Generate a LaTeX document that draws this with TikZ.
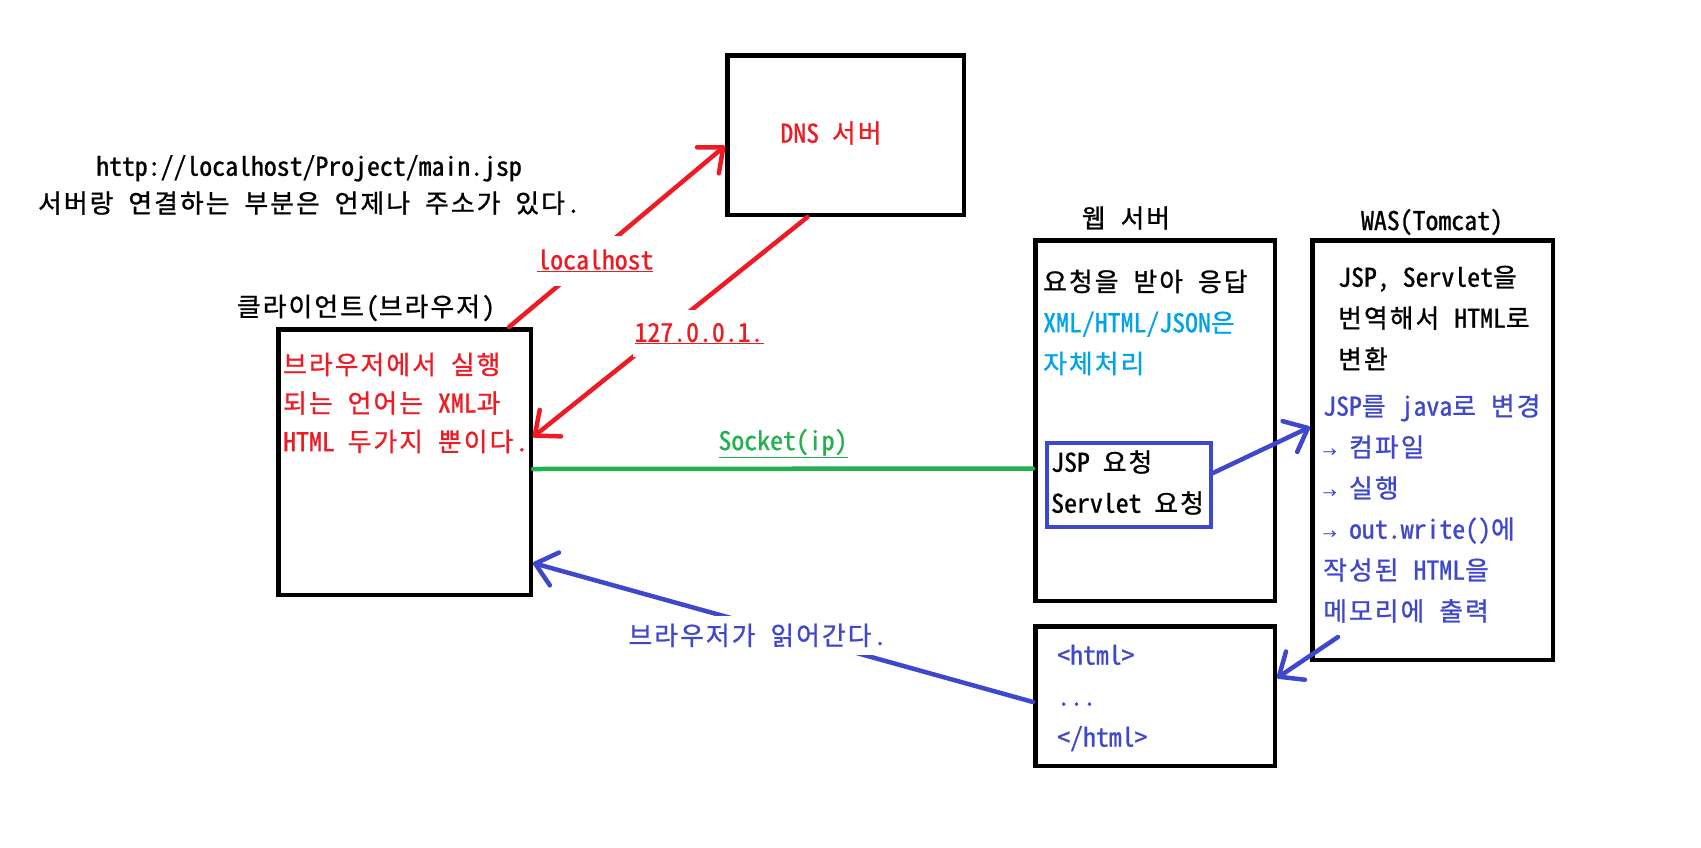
\documentclass[tikz,border=0pt]{standalone}
\usepackage{fontspec}
\setmainfont{Noto Sans Mono CJK KR}[FakeBold=1]
\usepackage{xcolor}
\usetikzlibrary{arrows.meta}
\definecolor{pred}{HTML}{ED1C24}
\definecolor{pblue}{HTML}{3F48CC}
\definecolor{pgreen}{HTML}{22B14C}
\definecolor{pcyan}{HTML}{00A2E8}
\newcommand\smallarrow{{\fontsize{13}{13}\selectfont →}}
% full-width pitch for hangul
\XeTeXinterchartokenstate=1
\newXeTeXintercharclass\hangulclass
\count255="AC00
\loop\XeTeXcharclass\count255=\hangulclass \ifnum\count255<"D7A3 \advance\count255 by 1 \repeat
\XeTeXinterchartoks\hangulclass 0={\kern0.08em\relax}
\XeTeXinterchartoks\hangulclass\hangulclass={\kern0.08em\relax}
\XeTeXinterchartoks\hangulclass 4095={\kern0.08em\relax}

\begin{document}
\begin{tikzpicture}[x=1pt,y=-1pt,
  box/.style={draw,line width=4.5pt,inner sep=0pt},
  txt/.style={inner sep=0pt,font=\fontsize{25.8}{41}\selectfont},
  blk/.style={txt,align=left,anchor=west},
  wire/.style={line width=4.5pt,line cap=round},
  tip/.style={-{Straight Barb[length=20pt,width=34pt,round]}},
  cut/.style={txt,fill=white,inner xsep=2pt}]
\useasboundingbox (0,0) rectangle (1701,847);

\node[txt,align=center,font=\fontsize{25.8}{37}\selectfont] (url) at (309,185)
  {http://localhost/Project/main.jsp\\서버랑 연결하는 부분은 언제나 주소가 있다.};

\node[box,minimum width=236.5pt,minimum height=159.5pt] (dns) at (845.5,135) {};
\node[txt,text=pred] (dnstxt) at (832,133) {DNS 서버};

\node[box,minimum width=252.5pt,minimum height=265.5pt] (client) at (404.5,462) {};
\node[txt] (clientlbl) at (366,308) {클라이언트(브라우저)};
\node[blk,text=pred,font=\fontsize{25.8}{38.5}\selectfont] (clienttxt) at (283,403)
  {브라우저에서 실행\\되는 언어는 XML과\\HTML 두가지 뿐이다.};

\node[box,minimum width=239.5pt,minimum height=360.5pt] (web) at (1155,420.5) {};
\node[txt] (weblbl) at (1127,218) {웹 서버};
\node[blk] (webtxt) at (1043,322.5)
  {요청을 받아 응답\\\textcolor{pcyan}{XML/HTML/JSON은}\\\textcolor{pcyan}{자체처리}};
\node[box,draw=pblue,line width=4pt,minimum width=164pt,minimum height=84pt] (jsp) at (1129,485) {};
\node[blk] (jsptxt) at (1051,482.5) {JSP 요청\\Servlet 요청};

\node[box,minimum width=240.5pt,minimum height=419.5pt] (was) at (1432.5,450) {};
\node[txt] (waslbl) at (1432,222) {WAS(Tomcat)};
\node[blk] (wastxt) at (1338,318) {JSP, Servlet을\\번역해서 HTML로\\변환};
\node[blk,text=pblue] (wassteps) at (1323,508.5)
  {JSP를 java로 변경\\\smallarrow{} 컴파일\\\smallarrow{} 실행\\\smallarrow{} out.write()에\\작성된 HTML을\\메모리에 출력};

\node[box,minimum width=239.5pt,minimum height=139.5pt] (html) at (1155,696) {};
\node[blk,text=pblue] (htmltxt) at (1057,698) {<html>\\...\\</html>};

\draw[wire,tip,pred] ([xshift=-24pt]client.north east) -- ([yshift=-11pt]dns.west)
  node[cut,pos=0.4,yshift=-6pt,inner ysep=14pt] (lbllocal) {\underline{localhost}};
\draw[wire,tip,pred] ([xshift=-38pt]dns.south) -- ([yshift=25pt]client.east)
  node[cut,pos=0.53,xshift=37pt,inner ysep=13pt] (lblip) {\underline{127.0.0.1.}};
\draw[wire,pgreen] ([yshift=-7pt]client.east) -- ([yshift=-48pt]web.west)
  node[txt,pos=0.5,above=9pt] (lblsock) {\underline{Socket(ip)}};
\draw[wire,tip,pblue] ([yshift=12pt]jsp.east) -- ([yshift=23pt]was.west);
\draw[wire,tip,pblue] ([shift={(28pt,25pt)}]was.south west) -- ([yshift=18pt]html.east);
\draw[wire,tip,pblue] ([yshift=-6pt]html.west) -- ([yshift=-101pt]client.east)
  node[cut,pos=0.551,yshift=-10pt,inner ysep=7.5pt] (lblread) {브라우저가 읽어간다.};
\end{tikzpicture}
\end{document}
